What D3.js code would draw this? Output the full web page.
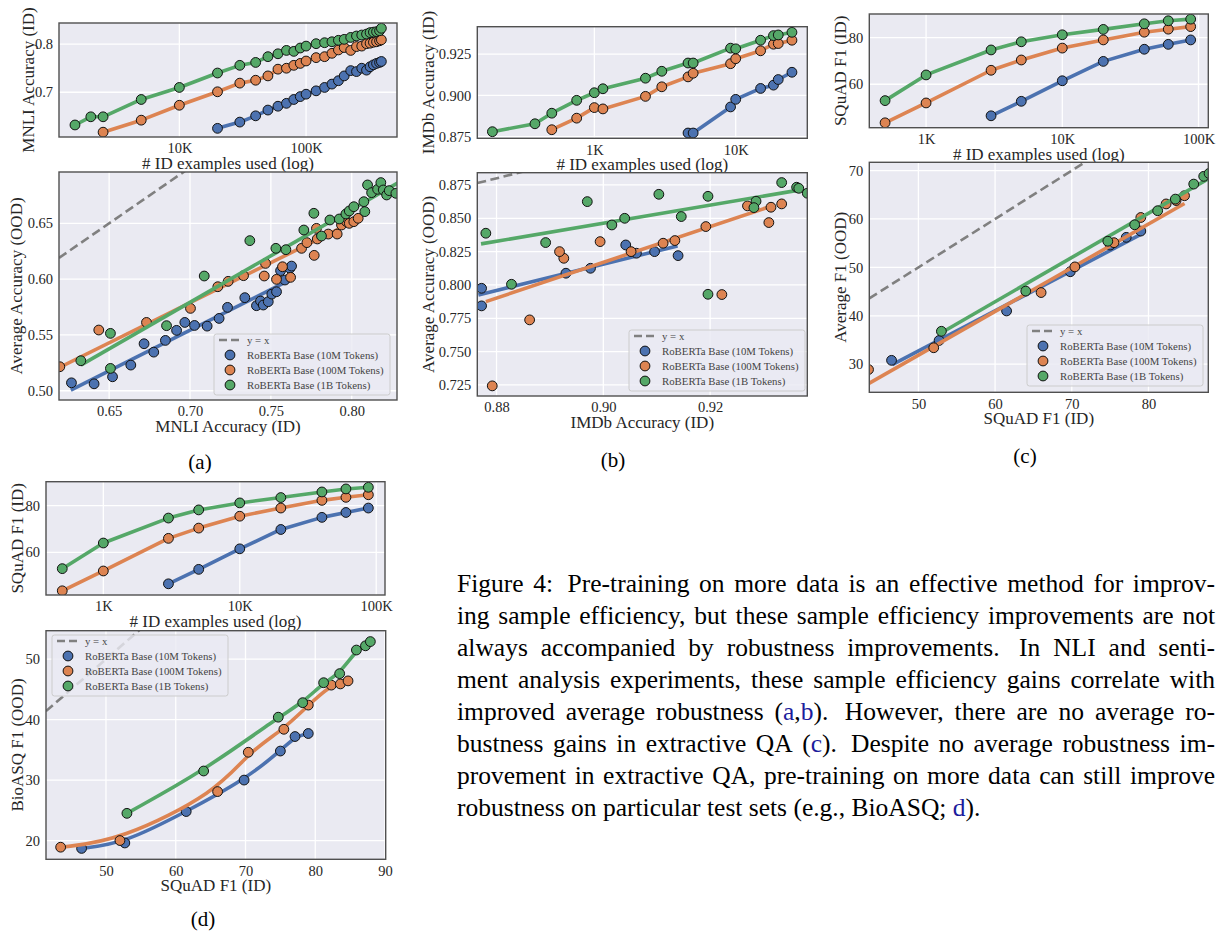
<!DOCTYPE html>
<html>
<head>
<meta charset="utf-8">
<script src="https://cdn.jsdelivr.net/npm/d3@7"></script>
<style>
  body { margin: 0; background: #fff; }
  svg text { font-family: "Liberation Serif", "DejaVu Serif", "Noto Serif", serif; }
</style>
</head>
<body>
<svg id="fig" width="1222" height="935"></svg>
<script>
// ---- data ----
var seriesNames = ['10M', '100M', '1B'];
var legendLabels = ['RoBERTa Base (10M Tokens)', 'RoBERTa Base (100M Tokens)', 'RoBERTa Base (1B Tokens)'];
var colors = { '10M': '#4C72B0', '100M': '#DD8452', '1B': '#55A868' };

// (a) MNLI: examples used vs ID accuracy
var mnliSizes = [1500, 2000, 2500, 5000, 10000, 20000, 30000, 40000, 50000, 60000, 70000, 80000, 90000, 100000,
  120000, 140000, 160000, 180000, 200000, 225000, 250000, 275000, 300000, 320000, 340000, 360000, 380000, 393000];
var mnliAcc10M = [0.625, 0.638, 0.651, 0.663, 0.671, 0.677, 0.685, 0.691, 0.696, 0.703, 0.710, 0.717, 0.724, 0.734,
  0.745, 0.743, 0.750, 0.746, 0.753, 0.757, 0.760, 0.762, 0.764];
var mnliAcc100M = [0.617, 0.642, 0.673, 0.701, 0.719, 0.725, 0.734, 0.748, 0.750, 0.756, 0.760, 0.765, 0.772, 0.774,
  0.781, 0.788, 0.793, 0.787, 0.795, 0.796, 0.801, 0.802, 0.804, 0.805, 0.807, 0.809];
var mnliAcc1B = [0.632, 0.649, 0.649, 0.685, 0.710, 0.740, 0.756, 0.762, 0.774, 0.780, 0.787, 0.785, 0.792, 0.796,
  0.801, 0.803, 0.805, 0.808, 0.810, 0.814, 0.817, 0.819, 0.821, 0.824, 0.825, 0.826, 0.828, 0.833];

// (a) MNLI: ID accuracy vs average OOD accuracy
var mnliScatter10M = [[0.6267, 0.5071], [0.6407, 0.5062], [0.6521, 0.5125], [0.6634, 0.5230], [0.6716, 0.5421], [0.6776, 0.5346],
  [0.6848, 0.5451], [0.6917, 0.5541], [0.6968, 0.5612], [0.7028, 0.5585], [0.7106, 0.5579], [0.7180, 0.5648], [0.7232, 0.5747],
  [0.7339, 0.5834], [0.7411, 0.5762], [0.7436, 0.5804], [0.7453, 0.5768], [0.7484, 0.5798], [0.7506, 0.5866], [0.7535, 0.5887],
  [0.7560, 0.6076], [0.7587, 0.5992], [0.7618, 0.6097], [0.7628, 0.6117]];
var mnliScatter100M = [[0.6195, 0.5215], [0.6436, 0.5544], [0.6731, 0.5612], [0.7003, 0.5738], [0.7172, 0.5932], [0.7236, 0.5980],
  [0.7331, 0.6031], [0.7459, 0.6028], [0.7467, 0.6141], [0.7535, 0.5998], [0.7572, 0.6111], [0.7622, 0.6016], [0.7690, 0.6276],
  [0.7723, 0.6327], [0.7768, 0.6213], [0.7782, 0.6455], [0.7787, 0.6360], [0.7855, 0.6404], [0.7910, 0.6404], [0.7937, 0.6485],
  [0.7968, 0.6515], [0.7985, 0.6500], [0.8013, 0.6515], [0.8040, 0.6545]];
var mnliScatter1B = [[0.6325, 0.5269], [0.6508, 0.5514], [0.6508, 0.5200], [0.6855, 0.5583], [0.7088, 0.6028], [0.7370, 0.6345],
  [0.7531, 0.6276], [0.7593, 0.6264], [0.7704, 0.6440], [0.7766, 0.6590], [0.7813, 0.6386], [0.7865, 0.6530], [0.7923, 0.6539],
  [0.7964, 0.6584], [0.7985, 0.6611], [0.8013, 0.6649], [0.8075, 0.6694], [0.8081, 0.6605], [0.8098, 0.6844], [0.8123, 0.6775],
  [0.8160, 0.6805], [0.8180, 0.6865], [0.8195, 0.6799], [0.8216, 0.6754], [0.8232, 0.6793], [0.8273, 0.6769]];
var mnliFit10M = [[0.6263, 0.5006], [0.7628, 0.6000]];
var mnliFit100M = [[0.6190, 0.5206], [0.8040, 0.6535]];
var mnliFit1B = [[0.6325, 0.5230], [0.8300, 0.6875]];

// (b) IMDb
var imdbSizes = [190, 380, 500, 750, 1000, 1150, 2300, 3000, 4600, 5000, 9200, 10000, 15000, 18500, 20000, 25000];
var imdbAcc10M = [0.8772, 0.8772, 0.8930, 0.8976, 0.9042, 0.9062, 0.9096, 0.9140];
var imdbAcc100M = [0.8792, 0.8862, 0.8926, 0.8918, 0.8994, 0.9052, 0.9112, 0.9134, 0.9192, 0.9222, 0.9270, 0.9310, 0.9314, 0.9334];
var imdbAcc1B = [0.8780, 0.8828, 0.8892, 0.8970, 0.9016, 0.9040, 0.9104, 0.9146, 0.9196, 0.9196, 0.9286, 0.9282, 0.9334, 0.9362, 0.9366, 0.9382];
var imdbOod10M = [0.7975, 0.7843, 0.8088, 0.8125, 0.8300, 0.8238, 0.8250, 0.8220];
var imdbOod100M = [0.7243, 0.7738, 0.8200, 0.8250, 0.8325, 0.8250, 0.8313, 0.8333, 0.8438, 0.7928, 0.8593, 0.8468, 0.8583, 0.8608];
var imdbOod1B = [0.8388, 0.8005, 0.8318, 0.8625, 0.8450, 0.8500, 0.8680, 0.8513, 0.8665, 0.7930, 0.8628, 0.8580, 0.8768, 0.8733, 0.8725, 0.8688];
var imdbFit10M = [[0.8766, 0.7925], [0.9139, 0.8293]];
var imdbFit100M = [[0.8780, 0.7875], [0.9316, 0.8593]];
var imdbFit1B = [[0.8771, 0.8308], [0.9369, 0.8713]];

// (c), (d) SQuAD
var squadSizes = [500, 1000, 3000, 5000, 10000, 20000, 40000, 60000, 87600];
var squadF1_10M = [46.5, 52.7, 61.5, 69.8, 75.0, 77.1, 79.0];
var squadF1_100M = [43.5, 52.0, 66.0, 70.4, 75.5, 79.0, 82.3, 83.6, 84.7];
var squadF1_1B = [53.0, 64.0, 74.7, 78.2, 81.2, 83.5, 85.9, 87.2, 87.9];
var avgF1_10M = [30.8, 34.9, 41.0, 49.1, 54.6, 56.2, 57.5];
var avgF1_100M = [28.9, 33.4, 44.8, 50.1, 55.1, 60.3, 63.1, 63.8, 64.8];
var avgF1_1B = [36.8, 45.1, 55.4, 58.8, 61.7, 64.1, 67.2, 68.8, 69.4];
var squadFit10M = [[46.6, 29.9], [79.0, 56.8]];
var squadFit100M = [[43.5, 26.0], [84.7, 63.2]];
var squadFit1B = [[53.0, 36.5], [87.9, 68.4]];
var bioasqF1_10M = [18.7, 19.6, 24.8, 30.0, 34.8, 37.2, 37.7];
var bioasqF1_100M = [18.9, 20.0, 28.1, 34.6, 38.4, 42.4, 45.7, 45.9, 46.4];
var bioasqF1_1B = [24.5, 31.5, 40.4, 42.8, 46.1, 47.6, 51.5, 52.2, 52.9];

var captionLines = [
  'Figure 4: Pre-training on more data is an effective method for improv-',
  'ing sample efficiency, but these sample efficiency improvements are not',
  'always accompanied by robustness improvements. In NLI and senti-',
  'ment analysis experiments, these sample efficiency gains correlate with',
  'improved average robustness ({a},{b}). However, there are no average ro-',
  'bustness gains in extractive QA ({c}). Despite no average robustness im-',
  'provement in extractive QA, pre-training on more data can still improve',
  'robustness on particular test sets (e.g., BioASQ; {d}).'
];

// ---- drawing ----
var svg = d3.select('#fig');
var serif = '"Liberation Serif", "DejaVu Serif", "Noto Serif", serif';
var textColor = '#262626';
var panelCount = 0;

function kFormat(d) { return (d / 1000) + 'K'; }

function makePanel(opt) {
  var x = opt.x, y = opt.y;
  var x0 = x.range()[0], x1 = x.range()[1];
  var y0 = y.range()[1], y1 = y.range()[0];
  var g = svg.append('g').attr('font-family', serif);
  var id = 'clip' + (panelCount++);

  g.append('rect')
    .attr('x', x0).attr('y', y0)
    .attr('width', x1 - x0).attr('height', y1 - y0)
    .attr('fill', '#EAEAF2');

  // grid
  g.selectAll('.gx').data(opt.xTicks).enter().append('line')
    .attr('x1', d => x(d)).attr('x2', d => x(d))
    .attr('y1', y0).attr('y2', y1)
    .attr('stroke', '#fff').attr('stroke-width', 1.3);
  g.selectAll('.gy').data(opt.yTicks).enter().append('line')
    .attr('x1', x0).attr('x2', x1)
    .attr('y1', d => y(d)).attr('y2', d => y(d))
    .attr('stroke', '#fff').attr('stroke-width', 1.3);

  g.append('clipPath').attr('id', id).append('rect')
    .attr('x', x0).attr('y', y0)
    .attr('width', x1 - x0).attr('height', y1 - y0);
  var plot = g.append('g').attr('clip-path', 'url(#' + id + ')');

  g.append('rect')
    .attr('x', x0).attr('y', y0)
    .attr('width', x1 - x0).attr('height', y1 - y0)
    .attr('fill', 'none').attr('stroke', '#505050').attr('stroke-width', 1.4);

  // axes (tick labels only)
  var xAxis = g.append('g')
    .attr('transform', `translate(0, ${y1})`)
    .call(d3.axisBottom(x).tickValues(opt.xTicks).tickFormat(opt.xFmt).tickSize(0).tickPadding(6));
  var yAxis = g.append('g')
    .attr('transform', `translate(${x0}, 0)`)
    .call(d3.axisLeft(y).tickValues(opt.yTicks).tickFormat(opt.yFmt).tickSize(0).tickPadding(6));
  [xAxis, yAxis].forEach(function(a) {
    a.select('.domain').remove();
    a.attr('font-family', serif).attr('font-size', null);
    a.selectAll('text').attr('font-size', 14.5).attr('fill', textColor);
  });

  // axis labels
  g.append('text')
    .attr('x', (x0 + x1) / 2).attr('y', y1 + 32)
    .attr('text-anchor', 'middle')
    .attr('font-size', 17).attr('fill', textColor)
    .text(opt.xLabel);
  g.append('text')
    .attr('transform', `translate(${opt.yLabelX}, ${(y0 + y1) / 2}) rotate(-90)`)
    .attr('text-anchor', 'middle').attr('dy', '0.35em')
    .attr('font-size', 17).attr('fill', textColor)
    .text(opt.yLabel);

  return { g: g, plot: plot, x: x, y: y };
}

function drawDots(p, pts, color) {
  p.plot.selectAll(null).data(pts).enter().append('circle')
    .attr('cx', d => p.x(d[0])).attr('cy', d => p.y(d[1]))
    .attr('r', 4.9)
    .attr('fill', color).attr('stroke', '#111').attr('stroke-width', 1);
}

function drawLine(p, pts, color, curve) {
  p.plot.append('path').datum(pts)
    .attr('d', d3.line().x(d => p.x(d[0])).y(d => p.y(d[1])).curve(curve || d3.curveLinear))
    .attr('fill', 'none').attr('stroke', color).attr('stroke-width', 3.6)
    .attr('stroke-linejoin', 'round').attr('stroke-linecap', 'butt');
}

function drawIdentity(p) {
  var d = p.x.domain();
  p.plot.append('path').datum([[d[0], d[0]], [d[1], d[1]]])
    .attr('d', d3.line().x(v => p.x(v[0])).y(v => p.y(v[1])))
    .attr('fill', 'none').attr('stroke', '#808080').attr('stroke-width', 2.6)
    .attr('stroke-dasharray', '9,4.5');
}

function drawLegend(p, lx, ly) {
  var lg = p.g.append('g').attr('transform', `translate(${lx}, ${ly})`);
  lg.append('rect')
    .attr('width', 176).attr('height', 61).attr('rx', 2.5)
    .attr('fill', '#EAEAF2').attr('fill-opacity', 0.8)
    .attr('stroke', '#cccccc').attr('stroke-width', 1);
  lg.append('line')
    .attr('x1', 5).attr('x2', 25).attr('y1', 6).attr('y2', 6)
    .attr('stroke', '#808080').attr('stroke-width', 2.4).attr('stroke-dasharray', '8,4');
  lg.append('text')
    .attr('x', 33).attr('y', 9.6)
    .attr('font-size', 10.8).attr('fill', '#444').text('y = x');
  seriesNames.forEach(function(s, i) {
    lg.append('circle')
      .attr('cx', 16).attr('cy', 21 + 15 * i).attr('r', 4.9)
      .attr('fill', colors[s]).attr('stroke', '#111').attr('stroke-width', 1);
    lg.append('text')
      .attr('x', 33).attr('y', 24.6 + 15 * i)
      .attr('font-size', 10.8).attr('fill', '#444').text(legendLabels[i]);
  });
}

function drawCurves(p, sizes, accs) {
  seriesNames.forEach(function(s, i) {
    var pts = d3.zip(sizes[i], accs[i]);
    drawLine(p, pts, colors[s]);
    drawDots(p, pts, colors[s]);
  });
}

function drawScatter(p, scatters, fits, curve) {
  drawIdentity(p);
  seriesNames.forEach(function(s, i) {
    drawLine(p, fits[i], colors[s], curve);
    drawDots(p, scatters[i], colors[s]);
  });
}

// (a) top
var aTop = makePanel({
  x: d3.scaleLog().domain([1122, 522000]).range([59, 397]),
  y: d3.scaleLinear().domain([0.607, 0.844]).range([137, 23]),
  xTicks: [1e4, 1e5], xFmt: kFormat,
  yTicks: [0.7, 0.8], yFmt: d3.format('.1f'),
  xLabel: '# ID examples used (log)', yLabel: 'MNLI Accuracy (ID)', yLabelX: 28
});
drawCurves(aTop, [mnliSizes.slice(5), mnliSizes.slice(2), mnliSizes], [mnliAcc10M, mnliAcc100M, mnliAcc1B]);

// (a) bottom
var aBot = makePanel({
  x: d3.scaleLinear().domain([0.619, 0.828]).range([59, 397]),
  y: d3.scaleLinear().domain([0.4917, 0.696]).range([400, 172]),
  xTicks: [0.65, 0.70, 0.75, 0.80], xFmt: d3.format('.2f'),
  yTicks: [0.50, 0.55, 0.60, 0.65], yFmt: d3.format('.2f'),
  xLabel: 'MNLI Accuracy (ID)', yLabel: 'Average Accuracy (OOD)', yLabelX: 16
});
drawScatter(aBot, [mnliScatter10M, mnliScatter100M, mnliScatter1B], [mnliFit10M, mnliFit100M, mnliFit1B]);
drawLegend(aBot, 214, 334);

// (b) top
var bTop = makePanel({
  x: d3.scaleLog().domain([148.6, 32100]).range([477.3, 807.3]),
  y: d3.scaleLinear().domain([0.874, 0.9416]).range([138.3, 26.7]),
  xTicks: [1e3, 1e4], xFmt: kFormat,
  yTicks: [0.875, 0.900, 0.925], yFmt: d3.format('.3f'),
  xLabel: '# ID examples used (log)', yLabel: 'IMDb Accuracy (ID)', yLabelX: 428
});
drawCurves(bTop, [imdbSizes.slice(8), imdbSizes.slice(2), imdbSizes], [imdbAcc10M, imdbAcc100M, imdbAcc1B]);

// (b) bottom
var bBot = makePanel({
  x: d3.scaleLinear().domain([0.8764, 0.9382]).range([477.3, 807.3]),
  y: d3.scaleLinear().domain([0.7167, 0.8842]).range([396, 172.7]),
  xTicks: [0.88, 0.90, 0.92], xFmt: d3.format('.2f'),
  yTicks: [0.725, 0.750, 0.775, 0.800, 0.825, 0.850, 0.875], yFmt: d3.format('.3f'),
  xLabel: 'IMDb Accuracy (ID)', yLabel: 'Average Accuracy (OOD)', yLabelX: 428
});
drawScatter(bBot,
  [d3.zip(imdbAcc10M, imdbOod10M), d3.zip(imdbAcc100M, imdbOod100M), d3.zip(imdbAcc1B, imdbOod1B)],
  [imdbFit10M, imdbFit100M, imdbFit1B]);
drawLegend(bBot, 629, 330);

// (c) top
var cTop = makePanel({
  x: d3.scaleLog().domain([383, 118000]).range([869.3, 1208.3]),
  y: d3.scaleLinear().domain([41.4, 90.1]).range([127.7, 14]),
  xTicks: [1e3, 1e4, 1e5], xFmt: kFormat,
  yTicks: [60, 80], yFmt: d3.format('d'),
  xLabel: '# ID examples used (log)', yLabel: 'SQuAD F1 (ID)', yLabelX: 840
});
drawCurves(cTop, [squadSizes.slice(2), squadSizes, squadSizes], [squadF1_10M, squadF1_100M, squadF1_1B]);

// (c) bottom
var cBot = makePanel({
  x: d3.scaleLinear().domain([43.6, 87.8]).range([869.3, 1208.3]),
  y: d3.scaleLinear().domain([24.2, 71.7]).range([392.3, 162.3]),
  xTicks: [50, 60, 70, 80], xFmt: d3.format('d'),
  yTicks: [30, 40, 50, 60, 70], yFmt: d3.format('d'),
  xLabel: 'SQuAD F1 (ID)', yLabel: 'Average F1 (OOD)', yLabelX: 840
});
drawScatter(cBot,
  [d3.zip(squadF1_10M, avgF1_10M), d3.zip(squadF1_100M, avgF1_100M), d3.zip(squadF1_1B, avgF1_1B)],
  [squadFit10M, squadFit100M, squadFit1B]);
drawLegend(cBot, 1027, 325);

// (d) top
var dTop = makePanel({
  x: d3.scaleLog().domain([380, 116000]).range([46, 385]),
  y: d3.scaleLinear().domain([41.7, 90.3]).range([595, 481.7]),
  xTicks: [1e3, 1e4, 1e5], xFmt: kFormat,
  yTicks: [60, 80], yFmt: d3.format('d'),
  xLabel: '# ID examples used (log)', yLabel: 'SQuAD F1 (ID)', yLabelX: 17
});
drawCurves(dTop, [squadSizes.slice(2), squadSizes, squadSizes], [squadF1_10M, squadF1_100M, squadF1_1B]);

// (d) bottom
var dBot = makePanel({
  x: d3.scaleLinear().domain([41.4, 90.1]).range([46, 385.7]),
  y: d3.scaleLinear().domain([16.9, 54.7]).range([859.3, 630.7]),
  xTicks: [50, 60, 70, 80, 90], xFmt: d3.format('d'),
  yTicks: [20, 30, 40, 50], yFmt: d3.format('d'),
  xLabel: 'SQuAD F1 (ID)', yLabel: 'BioASQ F1 (OOD)', yLabelX: 17
});
var dPts = [d3.zip(squadF1_10M, bioasqF1_10M), d3.zip(squadF1_100M, bioasqF1_100M), d3.zip(squadF1_1B, bioasqF1_1B)];
drawScatter(dBot, dPts, dPts, d3.curveBasis);
drawLegend(dBot, 52, 635);

// sub-captions
[['(a)', 200, 469], ['(b)', 613, 467], ['(c)', 1025, 463], ['(d)', 203, 926]].forEach(function(c) {
  svg.append('text')
    .attr('x', c[1]).attr('y', c[2])
    .attr('text-anchor', 'middle')
    .attr('font-family', serif)
    .attr('font-size', 21).attr('fill', '#000')
    .text(c[0]);
});

// caption, justified word by word
var capX0 = 457, capX1 = 1215, capY0 = 591.5, capDy = 32, capSize = 25.5;
captionLines.forEach(function(line, i) {
  var words = line.split(' ');
  var nodes = words.map(function(w) {
    var t = svg.append('text')
      .attr('y', capY0 + i * capDy)
      .attr('font-family', serif)
      .attr('font-size', capSize).attr('fill', '#000');
    w.split(/(\{[^}]*\})/).filter(s => s.length).forEach(function(s) {
      if (s[0] === '{') t.append('tspan').attr('fill', '#1c1c9c').text(s.slice(1, -1));
      else t.append('tspan').text(s);
    });
    return t;
  });
  var widths = nodes.map(t => t.node().getComputedTextLength());
  var weights = words.slice(0, -1).map(w => /[.:]$/.test(w) && w !== 'e.g.,' ? 1.5 : 1);
  var last = i === captionLines.length - 1;
  var unit = last ? capSize * 0.25 : (capX1 - capX0 - d3.sum(widths)) / d3.sum(weights);
  var xPos = capX0;
  nodes.forEach(function(t, k) {
    t.attr('x', xPos);
    xPos += widths[k] + (k < weights.length ? weights[k] * unit : 0);
  });
});
</script>
</body>
</html>
